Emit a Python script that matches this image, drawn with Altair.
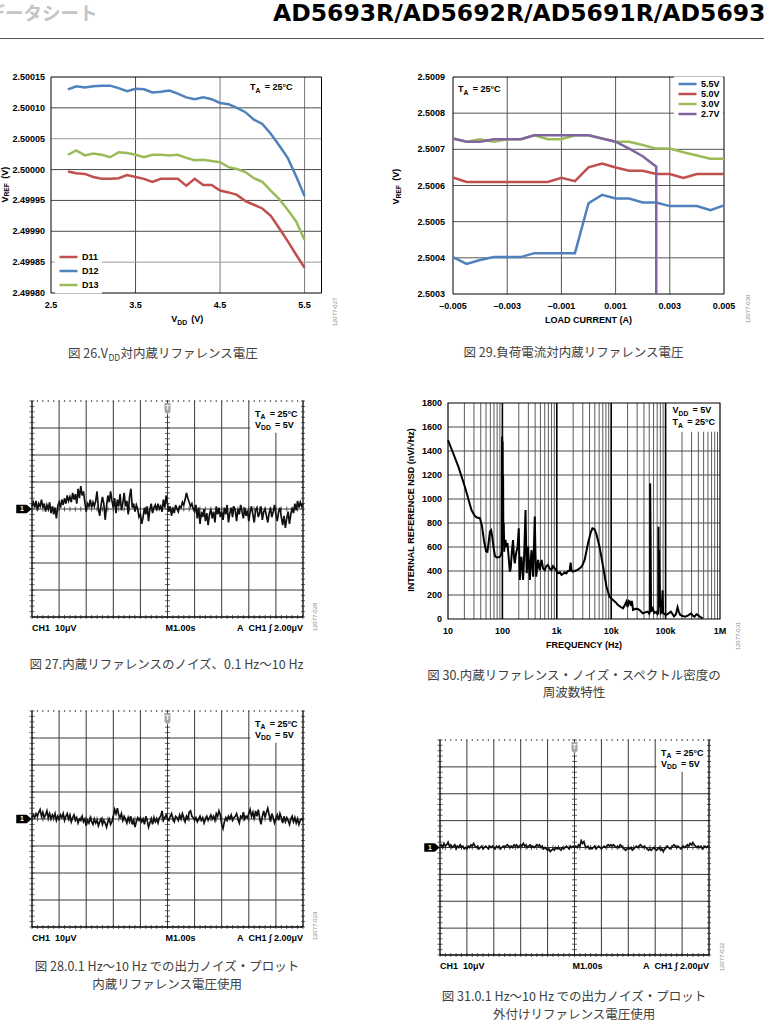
import altair as alt
import pandas as pd

# ---------------- Fig 26 : VREF vs VDD ----------------
f26_vdd = [2.7, 2.8, 2.9, 3.0, 3.1, 3.2, 3.3, 3.4, 3.5, 3.6, 3.7, 3.8, 3.9, 4.0, 4.1,
           4.2, 4.3, 4.4, 4.5, 4.6, 4.7, 4.8, 4.9, 5.0, 5.1, 5.2, 5.3, 5.4, 5.5]
f26_d11 = [2.499997, 2.499994, 2.499993, 2.499988, 2.499985, 2.499985, 2.499986, 2.499991,
           2.499988, 2.499985, 2.499980, 2.499985, 2.499985, 2.499985, 2.499974, 2.499985,
           2.499975, 2.499975, 2.499966, 2.499963, 2.499959, 2.499949, 2.499943, 2.499937,
           2.499925, 2.499905, 2.499884, 2.499862, 2.499841]
f26_d12 = [2.500130, 2.500135, 2.500133, 2.500135, 2.500136, 2.500136, 2.500132, 2.500127,
           2.500131, 2.500130, 2.500125, 2.500126, 2.500128, 2.500123, 2.500117, 2.500114,
           2.500117, 2.500114, 2.500108, 2.500106, 2.500100, 2.500093, 2.500081, 2.500074,
           2.500058, 2.500039, 2.500019, 2.499989, 2.499957]
f26_d13 = [2.500024, 2.500031, 2.500023, 2.500026, 2.500024, 2.500020, 2.500028, 2.500027,
           2.500024, 2.500020, 2.500024, 2.500024, 2.500023, 2.500024, 2.500019, 2.500015,
           2.500016, 2.500014, 2.500012, 2.500004, 2.500001, 2.499996, 2.499986, 2.499980,
           2.499966, 2.499952, 2.499935, 2.499916, 2.499886]
f26_series = ["D11", "D12", "D13"]
f26_colors = ["#c0504d", "#4f81bd", "#9bbb59"]
f26_xticks = [2.5, 3.5, 4.5, 5.5]
f26_xlabels = ["2.5", "3.5", "4.5", "5.5"]
f26_yticks = [2.49980, 2.49985, 2.49990, 2.49995, 2.50000, 2.50005, 2.50010, 2.50015]
f26_ylabels = ["2.49980", "2.49985", "2.49990", "2.49995", "2.50000", "2.50005", "2.50010", "2.50015"]

# ---------------- Fig 29 : VREF vs load current ----------------
f29_iload = [-0.005, -0.0045, -0.004, -0.0035, -0.003, -0.0025, -0.002, -0.0015, -0.001, -0.0005,
             0.0, 0.0005, 0.001, 0.0015, 0.002, 0.0025, 0.003, 0.0035, 0.004, 0.0045, 0.005]
f29_v55 = [2.500402, 2.500383, 2.500394, 2.500402, 2.500402, 2.500402, 2.500413, 2.500413, 2.500413,
           2.500413, 2.500551, 2.500574, 2.500564, 2.500564, 2.500553, 2.500553, 2.500543, 2.500543,
           2.500543, 2.500532, 2.500545]
f29_v50 = [2.500622, 2.500610, 2.500610, 2.500610, 2.500610, 2.500610, 2.500610, 2.500610, 2.500621,
           2.500612, 2.500650, 2.500661, 2.500650, 2.500641, 2.500641, 2.500632, 2.500632, 2.500621,
           2.500632, 2.500632, 2.500632]
f29_v30 = [2.500730, 2.500721, 2.500728, 2.500721, 2.500728, 2.500728, 2.500739, 2.500728, 2.500728,
           2.500739, 2.500739, 2.500730, 2.500721, 2.500721, 2.500712, 2.500702, 2.500702, 2.500692,
           2.500683, 2.500674, 2.500674]
f29_iload27 = [-0.005, -0.0045, -0.004, -0.0035, -0.003, -0.0025, -0.002, -0.0015, -0.001, -0.0005,
               0.0, 0.0005, 0.001, 0.0015, 0.002, 0.0025, 0.0025]
f29_v27 = [2.500730, 2.500721, 2.500721, 2.500728, 2.500728, 2.500728, 2.500739, 2.500739, 2.500739,
           2.500739, 2.500739, 2.500730, 2.500721, 2.500702, 2.500681, 2.500652, 2.500300]
f29_series = ["5.5V", "5.0V", "3.0V", "2.7V"]
f29_colors = ["#4f81bd", "#c0504d", "#9bbb59", "#8064a2"]
f29_xticks = [-0.005, -0.003, -0.001, 0.001, 0.003, 0.005]
f29_xlabels = ["\u20130.005", "\u20130.003", "\u20130.001", "0.001", "0.003", "0.005"]
f29_yticks = [2.5003, 2.5004, 2.5005, 2.5006, 2.5007, 2.5008, 2.5009]
f29_ylabels = ["2.5003", "2.5004", "2.5005", "2.5006", "2.5007", "2.5008", "2.5009"]

# ---------------- Fig 30 : reference noise spectral density ----------------
f30_spectrum = [
    (10, 1490), (12, 1400), (15.5, 1270), (20.5, 1100), (27, 908), (31, 860), (34, 845), (38.5, 840),
    (42, 780), (46, 650), (50, 565), (53, 560), (56, 640), (59, 730), (62, 740), (65, 686), (69, 590),
    (73, 525), (78, 512), (84, 514), (90, 520), (94, 533), (97, 560), (98, 1350), (99, 1520), (100, 1100),
    (101, 1480), (102, 900), (103, 1200), (104, 700), (106, 800), (108, 560), (111, 640), (114, 660),
    (118, 600), (124, 633), (130, 520), (137, 394), (142, 420), (147, 519), (152, 600), (157, 658),
    (163, 520), (169, 464), (175, 520), (181, 561), (190, 600), (200, 756), (205, 480), (209, 325),
    (216, 450), (224, 519), (232, 420), (240, 325), (250, 500), (258, 700), (266, 908), (273, 600),
    (280, 381), (288, 480), (297, 603), (308, 450), (320, 325), (332, 480), (343, 575), (355, 450),
    (367, 353), (380, 600), (394, 853), (405, 550), (418, 353), (435, 420), (453, 492), (470, 440),
    (488, 408), (505, 460), (524, 492), (560, 420), (600, 408), (640, 440), (688, 450), (740, 420),
    (795, 408), (850, 440), (917, 422), (980, 400), (1060, 381), (1140, 390), (1220, 367), (1300, 375),
    (1400, 389), (1500, 380), (1600, 400), (1720, 400), (1800, 470), (1850, 410), (1950, 395),
    (2130, 400), (2400, 410), (2630, 422), (2900, 440), (3250, 492), (3750, 631), (4200, 720),
    (4520, 756), (4900, 750), (5300, 714), (6100, 603), (7100, 436), (8200, 269), (9300, 186),
    (10800, 158), (12000, 140), (13300, 117), (15000, 100), (16500, 89), (18000, 120), (19000, 144),
    (20000, 100), (21000, 150), (22000, 144), (23000, 110), (24000, 150), (25200, 75), (28000, 85),
    (31000, 83), (34000, 70), (38000, 47), (42000, 55), (47000, 61), (50000, 45), (51500, 60),
    (52000, 1131), (53000, 700), (54000, 60), (58000, 89), (62000, 50), (67000, 60), (71000, 40),
    (73500, 50), (74000, 769), (75000, 100), (76000, 575), (78000, 242), (82000, 50), (86000, 60),
    (88000, 240), (90000, 50), (101000, 33), (112000, 45), (125000, 61), (143000, 22), (155000, 40),
    (166000, 97), (175000, 60), (186000, 33), (205000, 25), (230000, 19), (260000, 30), (294000, 47),
    (320000, 25), (340000, 19), (370000, 40), (395000, 33), (440000, 15), (480000, 6)]
f30_xticks = [10, 100, 1000, 10000, 100000, 1000000]
f30_xlabels = ["10", "100", "1k", "10k", "100k", "1M"]
f30_yticks = [0, 200, 400, 600, 800, 1000, 1200, 1400, 1600, 1800]
f30_ylabels = ["0", "200", "400", "600", "800", "1000", "1200", "1400", "1600", "1800"]

# ---------------- scope traces (uV, one sample every 0.05 s) ----------------
f27_trace = (
    [1.0, 2.5, 0.5, 3.0, -0.5, 2.0, 1.0, 3.5, 0.5, 2.0, -1.0, 1.5, 0.0, 2.5, -1.5, 1.0, -2.0, 0.5, -3.5, 1.0] +
    [2.5, 0.5, 3.5, 1.5, 4.0, 2.0, 5.0, 3.0, 4.5, 2.5, 6.0, 3.5, 5.5, 2.0, 7.5, 4.0, 8.5, 5.0, 6.5, 2.5] +
    [-1.0, 2.0, 1.0, 3.5, 0.5, 2.5, 1.0, 3.0, 6.5, 0.0, -2.5, 1.5, 4.5, 2.0, -4.0, 1.0, 5.0, 2.5, 6.5, 3.0] +
    [0.5, 4.0, -1.5, 3.5, 1.0, 5.5, -0.5, 2.0, 6.0, 1.0, 3.0, -2.0, 4.5, 7.5, 0.5, 2.0, -1.0, 1.5, 0.0, -3.0] +
    [-2.0, -5.5, -3.0, 0.5, -2.0, 1.0, -4.5, 0.0, 2.0, -1.5, 0.5, 1.5, -0.5, 2.0, 0.0, 1.0, -1.0, 3.5, 0.5, 5.0] +
    [2.0, -1.0, 1.0, -2.5, 0.5, -1.5, 1.5, 0.0, -1.0, 1.0, 0.5, 2.5, 1.5, 3.5, 6.0, 4.0, 2.5, 1.0, 2.0, 0.0] +
    [-1.0, 1.5, -3.5, 0.5, -5.5, -1.0, -3.0, 0.0, -4.5, -1.5, -6.0, -2.0, 0.0, -3.5, -1.0, -5.0, 1.0, -2.0, 0.5, -3.0] +
    [-1.0, -4.0, 0.5, -2.0, 1.5, -5.0, -1.5, 0.5, -3.0, 1.0, -0.5, -4.5, 0.0, -2.0, 1.5, -1.0, -3.5, 0.5, -2.5, -0.5] +
    [-4.5, -1.0, 1.0, -2.0, -5.0, -0.5, 0.5, -3.0, -1.5, 1.0, -4.0, -1.0, 0.0, -2.5, -5.0, -1.5, 0.5, -3.0, -1.0, 1.5] +
    [-2.0, -4.5, -1.0, 0.5, -3.0, -6.0, -2.5, -7.0, -3.5, -1.0, -5.5, -2.0, 0.5, -1.5, 2.0, -0.5, 3.0, 0.5, 2.5, 1.0] +
    [2.0])
f28_trace = (
    [0.5, 1.5, 0.5, 2.0, 1.0, 2.5, 3.5, 1.0, 2.5, 0.5, 1.5, 3.0, 0.5, 2.0, 0.0, 1.5, 0.5, 2.0, -0.5, 1.0] +
    [0.0, 1.5, 0.5, 2.0, -0.5, 1.0, 2.0, 0.0, 1.5, -1.0, 0.5, 1.5, -0.5, 0.5, -1.5, 0.0, -0.5, 1.0, -1.0, 0.0] +
    [-2.5, -0.5, -1.5, 0.5, -1.0, -2.0, 0.0, -1.5, -0.5, -2.5, -1.0, 0.0, -2.0, -0.5, -1.5, -3.0, -1.0, 0.0, -2.0, -1.0] +
    [1.0, 3.5, 2.0, 4.0, 1.5, 0.5, 2.0, -0.5, 1.0, 0.0, -1.5, 0.5, -1.0, 1.0, -2.0, -0.5, -3.0, -1.0, 0.5, -0.5] +
    [0.5, -1.0, 0.0, -2.0, 1.0, -0.5, -3.0, -1.5, 0.0, -2.0, 0.5, -1.0, 0.0, -1.5, 0.5, 1.0, 3.0, -0.5, 0.5, 1.5] +
    [0.0, -0.5, 1.0, 2.0, 0.0, -1.0, 1.0, 0.5, -0.5, 1.5, 0.0, 2.0, 0.5, -1.0, 1.0, 0.0, 2.5, 3.0, 1.0, 0.5] +
    [-0.5, 0.5, -1.0, 0.0, 1.0, -0.5, 0.5, -1.5, 0.0, 1.0, -0.5, 0.5, 1.5, 0.0, 1.0, -0.5, 2.0, 1.0, 3.0, 1.5] +
    [-2.0, -3.5, -1.0, 0.5, -0.5, 1.0, 0.0, 1.5, -0.5, 0.5, 1.0, 2.0, 0.0, -1.5, 1.0, 0.5, 2.5, 0.0, 1.0, 0.5] +
    [2.0, 3.5, 1.0, 2.5, 0.0, 3.0, 1.0, 3.5, 0.5, -2.0, 1.0, 3.0, 0.5, 2.5, 4.0, 1.5, -1.0, 2.0, 0.5, -1.5] +
    [0.0, 1.5, -0.5, 2.0, 0.5, -1.5, 1.0, -1.0, 0.5, -0.5, -2.0, 0.0, 1.0, -1.0, 0.5, -1.5, 0.0, -2.0, -0.5, 0.0] +
    [-0.5])
f31_trace = (
    [0.5, 1.0, 0.0, 1.5, 0.5, 1.0, 2.0, 0.5, 1.0, 0.0, 0.5, 1.0, -0.5, 0.5, 0.0, 1.0, 0.0, 0.5, -0.5, 0.0] +
    [-0.5, 0.5, 0.0, 1.0, 0.5, 1.5, 0.5, 0.0, 0.5, -0.5, 0.0, 0.5, -0.5, 0.0, 0.5, 0.0, -0.5, 0.5, 0.0, 0.5] +
    [0.0, -0.5, 0.5, 0.0, 0.5, -0.5, 0.0, 0.5, 0.0, 0.5, 1.0, 0.5, 0.0, 0.5, 0.0, 1.0, 0.5, 1.0, 0.0, 0.5] +
    [1.0, 0.5, 1.5, 0.5, 1.0, 0.0, 0.5, 1.0, 0.0, 0.5, 0.0, 0.5, 1.0, 0.5, 1.0, 0.0, 0.5, -0.5, 0.0, -0.5] +
    [-1.0, -0.5, -1.5, -1.0, -0.5, -1.0, 0.0, -0.5, 0.0, -0.5, -1.0, 0.0, -0.5, 0.0, 0.5, 0.0, -0.5, 0.5, 0.0, 0.5] +
    [0.0, 0.5, 0.0, 1.0, 0.5, 2.5, 1.5, 2.2, 0.5, 0.0, 0.5, -0.5, 0.0, -0.5, 0.0, 0.5, -0.5, 0.0, 0.5, 0.0] +
    [-0.5, 0.0, 0.5, 0.0, 0.5, 1.0, 0.5, 1.0, 0.5, 1.0, 0.5, 0.0, 0.5, 0.0, 1.0, 0.5, 0.0, -0.5, -1.0, -0.5] +
    [0.0, -0.5, 0.0, -1.0, -0.5, 0.0, 0.5, 0.0, 0.5, 1.0, 0.5, 0.0, 0.5, 0.0, -0.5, -1.0, -0.5, -1.0, -0.5, 0.0] +
    [-0.5, -1.0, -0.5, 0.0, -1.0, -0.5, -1.5, -0.5, 0.0, 0.5, 0.0, -0.5, 0.0, 0.5, 1.0, 0.5, 0.0, 0.5, 0.0, -0.5] +
    [0.0, 0.5, 0.0, 0.5, 1.0, 0.5, 1.5, 1.0, 1.8, 1.0, 0.5, 0.0, 0.5, 0.0, 0.5, -0.5, 0.0, 0.5, 0.0, 0.5] +
    [0.0])
scope_vgrid = [1, 2, 3, 4, 5, 6, 7, 8, 9]
scope_hgrid = [-30, -20, -10, 0, 10, 20, 30]

# ================= styling helpers =================
FONT = "Liberation Sans"
JP = "Noto Sans CJK JP"
ONE = pd.DataFrame({"k": [0]})
NB = "\u00a0"

BW = {" ": .278, NB: .278, "(": .333, ")": .333, "=": .584, ".": .278, "\u00b0": .4, "A": .722, "C": .722,
      "D": .722, "E": .667, "F": .611, "R": .722, "T": .611, "V": .667, "H": .722, "z": .5, "n": .611,
      "/": .278, "I": .278, "N": .722, "L": .611, "S": .667}


def tw(s, size):
    return size * sum(BW.get(c, 0.556) for c in s)


def label(s, x, y, size=9, bold=True, color="#000", align="left", baseline="alphabetic",
          angle=None, font=FONT, dx=0.0, dy=0.0):
    kw = dict(text=s, font=font, fontSize=size, fontWeight="bold" if bold else "normal",
              color=color, align=align, baseline=baseline)
    if angle is not None:
        kw["angle"] = angle
    if dx:
        kw["dx"] = dx
    if dy:
        kw["dy"] = dy
    return alt.Chart(ONE).mark_text(**kw).encode(x=alt.value(x), y=alt.value(y))


def rich(parts, x, y, size=9, angle=None, center=False, baseline="alphabetic"):
    """Text with subscripts; leading spaces become explicit offsets."""
    items = []
    for s, sub in parts:
        fs = size * 0.75 if sub else size
        lead = len(s) - len(s.lstrip(" "))
        body = s.lstrip(" ").replace(" ", NB)
        pre = lead * 0.278 * fs + (1.2 if lead else 0.0)
        items.append((body, fs, sub, pre))
    total = sum(pre + tw(b, fs) for b, fs, sub, pre in items)
    off = -total / 2 if center else 0.0
    out = []
    for body, fs, sub, pre in items:
        off += pre
        out.append(label(body, x, y, size=fs, angle=angle, dx=off if off else 0.001,
                         dy=size * 0.3 if sub else 0, baseline=baseline))
        off += tw(body, fs) + (0.6 if sub else 0.0)
    return out


def lin(dom, rng, kind="linear"):
    if kind == "log":
        return alt.Scale(type="log", domain=dom, range=rng, nice=False)
    return alt.Scale(domain=dom, range=rng, nice=False, zero=False)


def XD(v, s):
    return alt.XDatum(v, scale=s, axis=None)


def YD(v, s):
    return alt.YDatum(v, scale=s, axis=None)


def vrules(vals, xs, ys, ylo, yhi, color, w=1.0):
    return alt.Chart(pd.DataFrame({"v": vals})).mark_rule(color=color, strokeWidth=w).encode(
        x=alt.X("v:Q", scale=xs, axis=None), y=YD(ylo, ys), y2=alt.Y2Datum(yhi))


def hrules(vals, xs, ys, xlo, xhi, color, w=1.0):
    return alt.Chart(pd.DataFrame({"v": vals})).mark_rule(color=color, strokeWidth=w).encode(
        y=alt.Y("v:Q", scale=ys, axis=None), x=XD(xlo, xs), x2=alt.X2Datum(xhi))


def box(xs, ys, x0, x1, y0, y1, fill=None, stroke=None, w=1.0):
    if fill:
        m = alt.Chart(ONE).mark_rect(color=fill)
    else:
        m = alt.Chart(ONE).mark_rect(fillOpacity=0, stroke=stroke, strokeWidth=w)
    return m.encode(x=XD(x0, xs), x2=alt.X2Datum(x1), y=YD(y0, ys), y2=alt.Y2Datum(y1))


def xtick_labels(vals, labs, xs, ys, yref, dy):
    return alt.Chart(pd.DataFrame({"v": vals, "t": labs})).mark_text(
        font=FONT, fontWeight="bold", fontSize=9, baseline="middle", align="center", dy=dy).encode(
        x=alt.X("v:Q", scale=xs, axis=None), y=YD(yref, ys), text="t:N")


def ytick_labels(vals, labs, xs, ys, xref, dx):
    return alt.Chart(pd.DataFrame({"v": vals, "t": labs})).mark_text(
        font=FONT, fontWeight="bold", fontSize=9, baseline="middle", align="right", dx=dx).encode(
        y=alt.Y("v:Q", scale=ys, axis=None), x=XD(xref, xs), text="t:N")


def fig_id(s, x, y):
    return label(s, x, y, size=6, bold=False, color="#8a8a8a", align="center", baseline="middle", angle=270)


def legend(x, y, rowpad):
    return alt.Legend(orient="none", legendX=x, legendY=y, title=None, direction="vertical",
                      symbolType="M-1,0L5,0", symbolSize=36, symbolStrokeWidth=2.5,
                      labelFont=FONT, labelFontWeight="bold", labelFontSize=9, labelColor="#000",
                      labelOffset=15, rowPadding=rowpad, padding=3, fillColor="white")


layers = []

# ================= header =================
layers.append(label("データシート", -13.5, 20, size=18.5, color="#c4c4c4", font=JP))
layers.append(label("AD5693R/AD5692R/AD5691R/AD5693R", 273, 20.5, size=23.5, font="DejaVu Sans"))
layers.append(alt.Chart(ONE).mark_rule(color="#555", strokeWidth=1.2).encode(
    x=alt.value(0), x2=alt.value(764), y=alt.value(38.5)))

# ================= Fig 26 =================
xs = lin([2.5, 5.7], [51, 321.5])
ys = lin([2.49980, 2.50015], [293, 77])
rows = []
for name, vals in zip(f26_series, [f26_d11, f26_d12, f26_d13]):
    for i, (a, b) in enumerate(zip(f26_vdd, vals)):
        rows.append({"x": a, "y": b, "s": name, "i": i})
df26 = pd.DataFrame(rows)
p = [
    vrules([3.5], xs, ys, 2.49980, 2.50015, "#4a4a4a"),
    vrules([4.5, 5.5], xs, ys, 2.49980, 2.50015, "#7a7a7a"),
    hrules([2.49990, 2.49995, 2.50000, 2.50010], xs, ys, 2.5, 5.7, "#4a4a4a"),
    hrules([2.49985, 2.50005], xs, ys, 2.5, 5.7, "#9a9a9a"),
    box(xs, ys, 2.5, 5.7, 2.49980, 2.50015, stroke="#000", w=1),
    alt.Chart(df26).mark_line(strokeWidth=2.5).encode(
        x=alt.X("x:Q", scale=xs, axis=None), y=alt.Y("y:Q", scale=ys, axis=None),
        color=alt.Color("s:N", scale=alt.Scale(domain=f26_series, range=f26_colors),
                        legend=legend(55, 249.5, 3)),
        order="i:Q"),
    xtick_labels(f26_xticks, f26_xlabels, xs, ys, 2.49980, 12),
    ytick_labels(f26_yticks, f26_ylabels, xs, ys, 2.5, -6),
]
layers.append(alt.layer(*p))
layers += rich([("T", False), ("A", True), (" = 25°C", False)], 250, 90)
layers += rich([("V", False), ("DD", True), (" (V)", False)], 187, 322, center=True)
layers += rich([("V", False), ("REF", True), (" (V)", False)], 4.5, 185, angle=270, center=True,
               baseline="middle")
layers.append(fig_id("12077-027", 335, 312))

# ================= Fig 29 =================
xs = lin([-0.005, 0.005], [453, 724])
ys = lin([2.5003, 2.5009], [294, 77])
rows = []
for name, xv, yv in [("5.5V", f29_iload, f29_v55), ("5.0V", f29_iload, f29_v50),
                     ("3.0V", f29_iload, f29_v30), ("2.7V", f29_iload27, f29_v27)]:
    for i, (a, b) in enumerate(zip(xv, yv)):
        rows.append({"x": a, "y": b, "s": name, "i": i})
df29 = pd.DataFrame(rows)
p = [
    vrules([-0.003, -0.001, 0.001, 0.003], xs, ys, 2.5003, 2.5009, "#555"),
    hrules([2.5004, 2.5005, 2.5006, 2.5007, 2.5008], xs, ys, -0.005, 0.005, "#555"),
    box(xs, ys, -0.005, 0.005, 2.5003, 2.5009, stroke="#000", w=1),
    alt.Chart(df29).mark_line(strokeWidth=2.5).encode(
        x=alt.X("x:Q", scale=xs, axis=None), y=alt.Y("y:Q", scale=ys, axis=None),
        color=alt.Color("s:N", scale=alt.Scale(domain=f29_series, range=f29_colors),
                        legend=legend(674, 76.5, -2)),
        order="i:Q"),
    xtick_labels(f29_xticks, f29_xlabels, xs, ys, 2.5003, 11.7),
    ytick_labels(f29_yticks, f29_ylabels, xs, ys, -0.005, -8),
]
layers.append(alt.layer(*p))
layers += rich([("T", False), ("A", True), (" = 25°C", False)], 458, 92)
layers.append(label("LOAD CURRENT (A)", 588.5, 323, align="center"))
layers += rich([("V", False), ("REF", True), (" (V)", False)], 396, 187, angle=270, center=True,
               baseline="middle")
layers.append(fig_id("12077-030", 748, 309))

# ================= Fig 30 =================
xs = lin([10, 1000000], [448, 720], kind="log")
ys = lin([0, 1800], [619, 403])
minor = [k * 10 ** n for n in range(1, 6) for k in range(2, 10)]
df30 = pd.DataFrame({"f": [a for a, b in f30_spectrum], "v": [b for a, b in f30_spectrum],
                     "i": list(range(len(f30_spectrum)))})
p = [
    vrules(minor, xs, ys, 0, 1800, "#4a4a4a", 0.9),
    hrules(f30_yticks[1:-1], xs, ys, 10, 1000000, "#4a4a4a", 1),
    vrules(f30_xticks[1:-1], xs, ys, 0, 1800, "#000", 1.6),
    box(xs, ys, 106000, 1000000, 1560, 1800, fill="white"),
    box(xs, ys, 10, 1000000, 0, 1800, stroke="#000", w=1.2),
    alt.Chart(df30).mark_line(color="#000", strokeWidth=2).encode(
        x=alt.X("f:Q", scale=xs, axis=None), y=alt.Y("v:Q", scale=ys, axis=None), order="i:Q"),
    xtick_labels(f30_xticks, f30_xlabels, xs, ys, 0, 11.7),
    ytick_labels(f30_yticks, f30_ylabels, xs, ys, 10, -6),
]
layers.append(alt.layer(*p))
layers += rich([("V", False), ("DD", True), (" = 5V", False)], 672.5, 413)
layers += rich([("T", False), ("A", True), (" = 25°C", False)], 672.5, 425)
layers.append(label("FREQUENCY (Hz)", 584, 648, align="center"))
layers.append(label("INTERNAL REFERENCE NSD (nV/\u221aHz)", 411, 510, align="center",
                    baseline="middle", angle=270))
layers.append(fig_id("12077-031", 738, 636))


# ================= oscilloscope panels =================
def scope(x0, x1, y0, y1, trace, fid, fid_x, fid_y):
    xs = lin([0, 10], [x0, x1])
    ys = lin([-40, 40], [y1, y0])
    minor_t = [i * 0.2 for i in range(51)]
    minor_u = [i * 2 - 40 for i in range(41)]
    df = pd.DataFrame({"t": [i * 0.05 for i in range(len(trace))], "u": trace})
    p = [
        vrules(scope_vgrid, xs, ys, -40, 40, "#3a3a3a", 1),
        hrules(scope_hgrid, xs, ys, 0, 10, "#3a3a3a", 1),
        box(xs, ys, 8.05, 10, 28.2, 39.8, fill="white"),
        vrules([0, 10], xs, ys, -40, 40, "#000", 1.3),
        hrules([-40], xs, ys, 0, 10, "#000", 1.3),
        alt.Chart(pd.DataFrame({"v": minor_t})).mark_tick(orient="vertical", size=2, thickness=1.2,
                                                          color="#333").encode(
            x=alt.X("v:Q", scale=xs, axis=None), y=YD(40, ys)),
        alt.Chart(pd.DataFrame({"v": minor_t})).mark_tick(orient="vertical", size=5, thickness=1,
                                                          color="#222").encode(
            x=alt.X("v:Q", scale=xs, axis=None), y=YD(0, ys)),
        alt.Chart(pd.DataFrame({"v": minor_t})).mark_tick(orient="vertical", size=4, thickness=1,
                                                          color="#222").encode(
            x=alt.X("v:Q", scale=xs, axis=None), y=YD(-40, ys)),
        alt.Chart(pd.DataFrame({"v": minor_u})).mark_tick(orient="horizontal", size=5, thickness=1,
                                                          color="#222").encode(
            y=alt.Y("v:Q", scale=ys, axis=None), x=XD(5, xs)),
        alt.Chart(pd.DataFrame({"v": minor_u})).mark_tick(orient="horizontal", size=5, thickness=1,
                                                          color="#222").encode(
            y=alt.Y("v:Q", scale=ys, axis=None), x=XD(0, xs)),
        alt.Chart(pd.DataFrame({"v": minor_u})).mark_tick(orient="horizontal", size=4, thickness=1,
                                                          color="#222").encode(
            y=alt.Y("v:Q", scale=ys, axis=None), x=XD(10, xs)),
        alt.Chart(df).mark_line(color="#111", strokeWidth=1.7).encode(
            x=alt.X("t:Q", scale=xs, axis=None), y=alt.Y("u:Q", scale=ys, axis=None)),
        alt.Chart(ONE).mark_point(shape="M-1,-0.55L0.35,-0.55L1,0L0.35,0.55L-1,0.55Z", size=240,
                                  filled=True, color="#000", opacity=1, xOffset=-8).encode(
            x=XD(0, xs), y=YD(0, ys)),
        alt.Chart(ONE).mark_text(text="1", color="white", fontSize=7, fontWeight="bold", font=FONT,
                                 baseline="middle", align="center", dx=-10).encode(
            x=XD(0, xs), y=YD(0, ys)),
        alt.Chart(ONE).mark_point(shape="M-0.5,-1L0.5,-1L0.5,0.45L0,0.9L-0.5,0.45Z", size=144,
                                  filled=True, color="#a6a6a6", opacity=1, yOffset=8).encode(
            x=XD(5, xs), y=YD(40, ys)),
        alt.Chart(ONE).mark_text(text="T", color="white", fontSize=6.5, fontWeight="bold", font=FONT,
                                 baseline="middle", align="center", dy=7).encode(
            x=XD(5, xs), y=YD(40, ys)),
        alt.Chart(ONE).mark_text(text="CH1" + NB + NB + "10\u03bcV", fontSize=9, fontWeight="bold",
                                 font=FONT, baseline="middle", align="left", dy=10.5).encode(
            x=XD(0, xs), y=YD(-40, ys)),
        alt.Chart(ONE).mark_text(text="M1.00s", fontSize=9, fontWeight="bold", font=FONT,
                                 baseline="middle", align="left", dy=10.5, dx=-2).encode(
            x=XD(5, xs), y=YD(-40, ys)),
        alt.Chart(ONE).mark_text(text="A" + NB + NB + "CH1" + NB + "\u222b" + NB + "2.00\u03bcV",
                                 fontSize=9, fontWeight="bold", font=FONT, baseline="middle",
                                 align="right", dy=10.5).encode(
            x=XD(10, xs), y=YD(-40, ys)),
    ]
    out = [alt.layer(*p)]
    out += rich([("T", False), ("A", True), (" = 25°C", False)], x1 - 48, y0 + 15.5)
    out += rich([("V", False), ("DD", True), (" = 5V", False)], x1 - 48, y0 + 26.5)
    out.append(fig_id(fid, fid_x, fid_y))
    return out


layers += scope(32, 303, 401, 617, f27_trace, "12077-028", 315, 617)
layers += scope(32, 303, 711, 927, f28_trace, "12077-029", 315, 926)
layers += scope(440, 709, 740, 955, f31_trace, "12077-032", 722, 957)

# ================= captions =================
CAP = dict(size=12.5, bold=False, color="#404040", font=JP)
layers.append(label("図 26.V", 68, 358, **CAP))
layers.append(label("DD", 108.5, 360.5, size=8.5, bold=False, color="#404040", font=JP))
layers.append(label("対内蔵リファレンス電圧", 120.5, 358, **CAP))
layers.append(label("図 29.負荷電流対内蔵リファレンス電圧", 573.5, 357, align="center", **CAP))
layers.append(label("図 27.内蔵リファレンスのノイズ、0.1 Hz～10 Hz", 166.5, 669, align="center", **CAP))
layers.append(label("図 30.内蔵リファレンス・ノイズ・スペクトル密度の", 574, 679.5, align="center", **CAP))
layers.append(label("周波数特性", 574, 697, align="center", **CAP))
layers.append(label("図 28.0.1 Hz～10 Hz での出力ノイズ・プロット", 167, 970.5, align="center", **CAP))
layers.append(label("内蔵リファレンス電圧使用", 167, 988.5, align="center", **CAP))
layers.append(label("図 31.0.1 Hz～10 Hz での出力ノイズ・プロット", 574, 1000.5, align="center", **CAP))
layers.append(label("外付けリファレンス電圧使用", 574, 1018.5, align="center", **CAP))

chart = alt.layer(*layers).properties(
    width=764, height=1028, padding=0, autosize=alt.AutoSizeParams(type="none"), background="white"
).resolve_scale(x="independent", y="independent", color="independent").configure_view(stroke=None)

chart.save("out.html", embed_options={"renderer": "svg", "actions": False})
